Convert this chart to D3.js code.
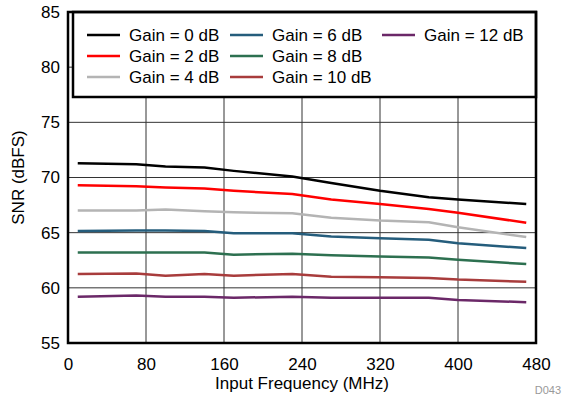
<!DOCTYPE html>
<html>
<head>
<meta charset="utf-8">
<script src="https://cdn.jsdelivr.net/npm/d3@7"></script>
<style>
  body { margin: 0; background: #fff; }
  text { font-family: "Liberation Sans", Arial, sans-serif; }
</style>
</head>
<body>
<div id="chart"></div>
<script>
// input frequency (MHz)
var freqs = [10, 70, 100, 140, 170, 230, 270, 320, 370, 400, 470];

// SNR (dBFS) per gain setting
var gain0  = [71.3, 71.2, 71.0, 70.9, 70.6, 70.1, 69.5, 68.8, 68.2, 68.0, 67.6];
var gain2  = [69.3, 69.2, 69.1, 69.0, 68.8, 68.5, 68.0, 67.6, 67.15, 66.8, 65.9];
var gain4  = [67.0, 67.0, 67.1, 66.95, 66.85, 66.75, 66.35, 66.1, 65.95, 65.5, 64.6];
var gain6  = [65.15, 65.2, 65.2, 65.15, 64.95, 64.95, 64.65, 64.5, 64.35, 64.05, 63.6];
var gain8  = [63.2, 63.2, 63.2, 63.2, 63.0, 63.1, 62.95, 62.85, 62.75, 62.55, 62.15];
var gain10 = [61.25, 61.3, 61.1, 61.25, 61.1, 61.25, 61.0, 60.95, 60.9, 60.75, 60.55];
var gain12 = [59.2, 59.3, 59.2, 59.2, 59.1, 59.2, 59.1, 59.1, 59.1, 58.9, 58.7];

var seriesNames = ["Gain = 0 dB", "Gain = 2 dB", "Gain = 4 dB", "Gain = 6 dB", "Gain = 8 dB", "Gain = 10 dB", "Gain = 12 dB"];
var seriesValues = [gain0, gain2, gain4, gain6, gain8, gain10, gain12];
var seriesColors = ["#000000", "#ff0000", "#b4b4b4", "#255d7c", "#2d7050", "#a83c3c", "#6b2868"];

var xTicks = [0, 80, 160, 240, 320, 400, 480];
var yTicks = [55, 60, 65, 70, 75, 80, 85];

var width = 563, height = 397;
var margin = {top: 12, right: 27, bottom: 54, left: 68};
var plotW = width - margin.left - margin.right,
    plotH = height - margin.top - margin.bottom;

var svg = d3.select("#chart").append("svg")
    .attr("width", width)
    .attr("height", height);

var x = d3.scaleLinear().domain([0, 480]).range([margin.left, margin.left + plotW]);
var y = d3.scaleLinear().domain([55, 85]).range([margin.top + plotH, margin.top]);

// grid
svg.append("g").selectAll("line.vgrid")
    .data(xTicks.slice(1, -1))
    .enter().append("line")
    .attr("x1", function(d) { return x(d); })
    .attr("x2", function(d) { return x(d); })
    .attr("y1", y(55)).attr("y2", y(85))
    .attr("stroke", "#333").attr("stroke-width", 1);

svg.append("g").selectAll("line.hgrid")
    .data(yTicks.slice(1, -1))
    .enter().append("line")
    .attr("x1", x(0)).attr("x2", x(480))
    .attr("y1", function(d) { return y(d); })
    .attr("y2", function(d) { return y(d); })
    .attr("stroke", "#333").attr("stroke-width", 1);

// series lines
var line = d3.line()
    .x(function(d, i) { return x(freqs[i]); })
    .y(function(d) { return y(d); });

svg.append("g").selectAll("path")
    .data(seriesValues)
    .enter().append("path")
    .attr("d", line)
    .attr("fill", "none")
    .attr("stroke", function(d, i) { return seriesColors[i]; })
    .attr("stroke-width", 2.5)
    .attr("stroke-linejoin", "round");

// axes (labels only, frame drawn separately)
var xAxis = svg.append("g")
    .attr("transform", "translate(0," + (margin.top + plotH) + ")")
    .call(d3.axisBottom(x).tickValues(xTicks).tickSize(0).tickPadding(15));
var yAxis = svg.append("g")
    .attr("transform", "translate(" + margin.left + ",0)")
    .call(d3.axisLeft(y).tickValues(yTicks).tickSize(0).tickPadding(8));
[xAxis, yAxis].forEach(function(a) {
  a.select(".domain").remove();
  a.selectAll("text").attr("font-size", 17).attr("fill", "#000")
    .style("font-family", "'Liberation Sans', Arial, sans-serif");
});

// legend box
var legend = svg.append("g");
legend.append("rect")
    .attr("x", 73).attr("y", margin.top)
    .attr("width", x(480) - 73).attr("height", 85)
    .attr("fill", "#fff").attr("stroke", "#000").attr("stroke-width", 2.5);

var colX = [87, 230, 382];
var rowY = [35, 56, 77];
seriesNames.forEach(function(name, i) {
  var c = Math.floor(i / 3), r = i % 3;
  legend.append("line")
      .attr("x1", colX[c]).attr("x2", colX[c] + 33)
      .attr("y1", rowY[r]).attr("y2", rowY[r])
      .attr("stroke", seriesColors[i]).attr("stroke-width", 2.5);
  legend.append("text")
      .attr("x", colX[c] + 42).attr("y", rowY[r])
      .attr("dy", "0.35em")
      .attr("font-size", 17)
      .text(name);
});

// plot frame
svg.append("rect")
    .attr("x", x(0)).attr("y", y(85))
    .attr("width", plotW).attr("height", plotH)
    .attr("fill", "none").attr("stroke", "#000").attr("stroke-width", 2.5);

// axis titles
svg.append("text")
    .attr("x", margin.left + plotW / 2).attr("y", 389)
    .attr("text-anchor", "middle").attr("font-size", 17)
    .text("Input Frequency (MHz)");

svg.append("text")
    .attr("transform", "translate(24," + (margin.top + plotH / 2) + ") rotate(-90)")
    .attr("text-anchor", "middle").attr("font-size", 17)
    .text("SNR (dBFS)");

svg.append("text")
    .attr("x", 561).attr("y", 394)
    .attr("text-anchor", "end").attr("font-size", 11).attr("fill", "#999")
    .text("D043");
</script>
</body>
</html>
